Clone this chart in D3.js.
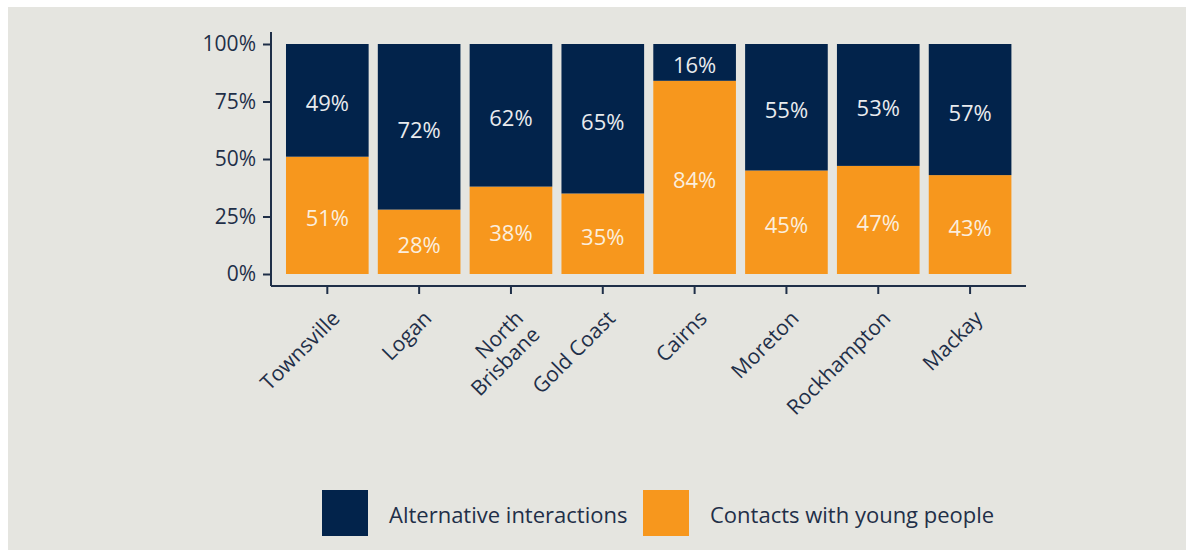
<!DOCTYPE html>
<html>
<head>
<meta charset="utf-8">
<script src="https://cdn.jsdelivr.net/npm/d3@7/dist/d3.min.js"></script>
<style>
  html, body { margin: 0; padding: 0; background: #ffffff; }
  svg { display: block; }
  text { font-family: "Open Sans", "Noto Sans", sans-serif; }
</style>
</head>
<body>
<svg id="chart" width="1195" height="550"></svg>
<script>
// Youth contact data by police district
const districts = ["Townsville", "Logan", "North Brisbane", "Gold Coast", "Cairns", "Moreton", "Rockhampton", "Mackay"];
const contactsYoung = [51, 28, 38, 35, 84, 45, 47, 43];
const alternative = [49, 72, 62, 65, 16, 55, 53, 57];
const yTicks = [0, 25, 50, 75, 100];
const seriesNames = ["Alternative interactions", "Contacts with young people"];
const seriesColors = ["#02234b", "#f7971d"];

const svg = d3.select("#chart");
const W = 1195, H = 550;
const textColor = "#1f2f48";

// panel background
svg.append("rect").attr("x", 8).attr("y", 7).attr("width", W - 17).attr("height", H - 7)
  .attr("fill", "#e5e5e0");

const x = d3.scaleBand().domain(districts).range([281.4, 1016]).paddingInner(0.1).paddingOuter(0.05);
const y = d3.scaleLinear().domain([0, 100]).range([274, 44]);

const rows = districts.map((d, i) => ({ district: d, contacts: contactsYoung[i], alt: alternative[i] }));

const g = svg.append("g");

// stacked bars: contacts at the bottom, alternative interactions on top
g.selectAll("rect.contacts").data(rows).join("rect")
  .attr("class", "contacts")
  .attr("x", d => x(d.district)).attr("width", x.bandwidth())
  .attr("y", d => y(d.contacts)).attr("height", d => y(0) - y(d.contacts))
  .attr("fill", seriesColors[1]);

g.selectAll("rect.alt").data(rows).join("rect")
  .attr("class", "alt")
  .attr("x", d => x(d.district)).attr("width", x.bandwidth())
  .attr("y", d => y(d.contacts + d.alt)).attr("height", d => y(d.contacts) - y(d.contacts + d.alt))
  .attr("fill", seriesColors[0]);

// value labels centred in each segment
const labelStyle = sel => sel.attr("text-anchor", "middle").attr("dominant-baseline", "central")
  .attr("dy", 2).attr("font-size", 22);

g.selectAll("text.lc").data(rows).join("text").attr("class", "lc")
  .attr("x", d => x(d.district) + x.bandwidth() / 2)
  .attr("y", d => y(d.contacts / 2))
  .attr("fill", "#fbeedd")
  .text(d => d.contacts + "%").call(labelStyle);

g.selectAll("text.la").data(rows).join("text").attr("class", "la")
  .attr("x", d => x(d.district) + x.bandwidth() / 2)
  .attr("y", d => y(d.contacts + d.alt / 2))
  .attr("fill", "#e9ebee")
  .text(d => d.alt + "%").call(labelStyle);

// y axis
const yAxis = svg.append("g").attr("transform", "translate(271,0)")
  .call(d3.axisLeft(y).tickValues(yTicks).tickFormat(d => d + "%").tickSize(8).tickPadding(7));
yAxis.select(".domain").remove();
yAxis.append("line").attr("x1", 0).attr("x2", 0).attr("y1", 32).attr("y2", 286)
  .attr("stroke", textColor).attr("stroke-width", 2);
yAxis.selectAll(".tick line").attr("stroke", textColor).attr("stroke-width", 2);
yAxis.selectAll(".tick text").attr("font-size", 21).attr("fill", textColor)
  .attr("font-family", "'Open Sans', sans-serif");

// x axis
const xAxis = svg.append("g").attr("transform", "translate(0,286)")
  .call(d3.axisBottom(x).tickSize(8).tickFormat(""));
xAxis.select(".domain").remove();
xAxis.append("line").attr("x1", 271).attr("x2", 1026).attr("y1", 0).attr("y2", 0)
  .attr("stroke", textColor).attr("stroke-width", 2);
xAxis.selectAll(".tick line").attr("stroke", textColor).attr("stroke-width", 2);

// rotated category labels
const xl = svg.append("g");
districts.forEach(d => {
  const cx = x(d) + x.bandwidth() / 2;
  const words = d === "North Brisbane" ? ["North", "Brisbane"] : [d];
  const t = xl.append("text")
    .attr("transform", `translate(${cx + 3},${309}) rotate(-45)`)
    .attr("text-anchor", "end").attr("font-size", 21).attr("fill", textColor);
  words.forEach((w, i) => {
    t.append("tspan").attr("x", 0).attr("dy", i === 0 ? "0.72em" : "1.1em").text(w);
  });
});

// legend
const legend = svg.append("g");
const legendX = [322, 643];
seriesNames.forEach((n, i) => {
  legend.append("rect").attr("x", legendX[i]).attr("y", 490).attr("width", 46).attr("height", 46)
    .attr("fill", seriesColors[i]);
  legend.append("text").attr("x", legendX[i] + 67).attr("y", 514)
    .attr("dominant-baseline", "central").attr("font-size", 22).attr("fill", textColor).text(n);
});
</script>
</body>
</html>
